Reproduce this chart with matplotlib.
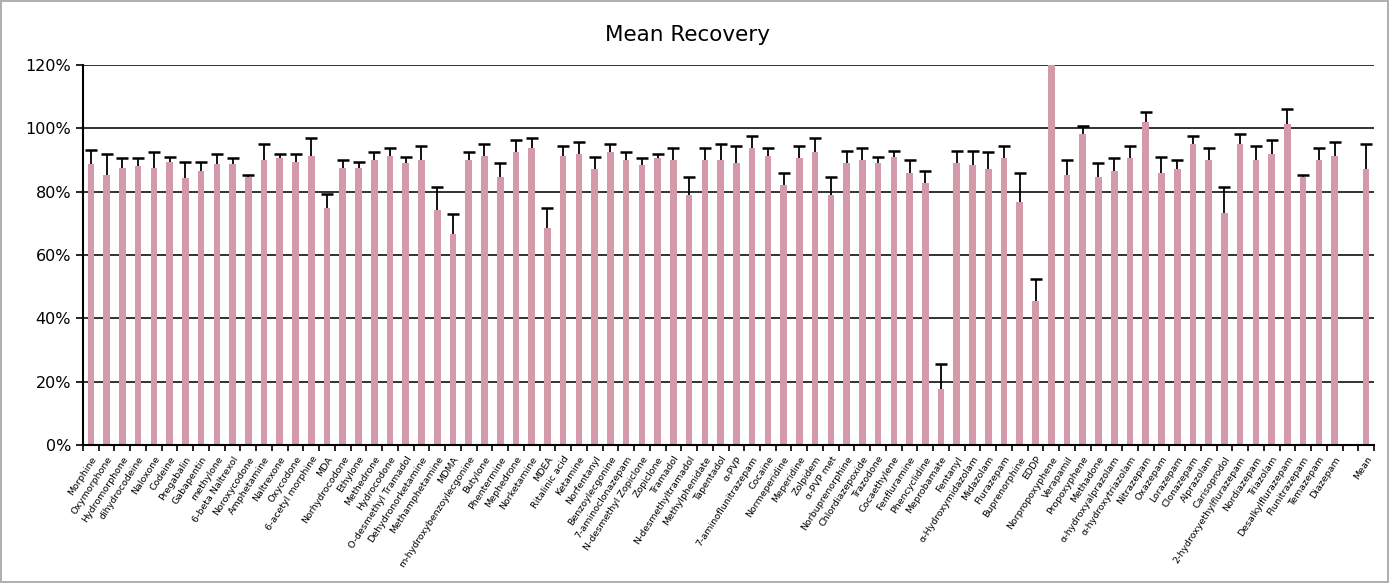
import numpy as np
import matplotlib
matplotlib.use("Agg")
import matplotlib.pyplot as plt
from matplotlib.ticker import FixedLocator, PercentFormatter

compounds = [
    "Morphine", "Oxymorphone", "Hydromorphone", "dihydrocodeine", "Naloxone",
    "Codeine", "Pregabalin", "Gabapentin", "methylone", "6-beta Naltrexol",
    "Noroxycodone", "Amphetamine", "Naltrexone", "Oxycodone", "6-acetyl morphine",
    "MDA", "Norhydrocodone", "Ethylone", "Methedrone", "Hydrocodone",
    "O-desmethyl Tramadol", "Dehydronorketamine", "Methamphetamine", "MDMA",
    "m-hydroxybenzoylecgonine", "Butylone", "Phentermine", "Mephedrone",
    "Norketamine", "MDEA", "Ritalinic acid", "Ketamine", "Norfentanyl",
    "Benzoylecgonine", "7-aminoclonazepam", "N-desmethyl Zopiclone", "Zopiclone",
    "Tramadol", "N-desmethyltramadol", "Methylphenidate", "Tapentadol", "α-PVP",
    "7-aminoflunitrazepam", "Cocaine", "Normeperidine", "Meperidine", "Zolpidem",
    "α-PVP met", "Norbuprenorphine", "Chlordiazepoxide", "Trazodone",
    "Cocaethylene", "Fenfluramine", "Phencyclidine", "Meprobamate", "Fentanyl",
    "α-Hydroxymidazolam", "Midazolam", "Flurazepam", "Buprenorphine", "EDDP",
    "Norpropoxyphene", "Verapamil", "Propoxyphene", "Methadone",
    "α-hydroxyalprazolam", "α-hydroxytriazolam", "Nitrazepam", "Oxazepam",
    "Lorazepam", "Clonazepam", "Alprazolam", "Carisoprodol",
    "2-hydroxyethylflurazepam", "Nordiazepam", "Triazolam", "Desalkylflurazepam",
    "Flunitrazepam", "Temazepam", "Diazepam", "", "Mean",
]

# mean recovery (%) and upper error (%); the blank slot before Mean is NaN
recovery = [
    88.6, 85.3, 87.4, 88.0, 87.4, 89.3, 84.2, 86.6, 88.6, 88.6,
    84.7, 89.9, 90.5, 89.3, 91.2, 74.9, 87.4, 87.4, 89.9, 91.2,
    89.1, 89.9, 74.3, 66.7, 89.9, 91.2, 84.7, 92.4, 93.7, 68.5,
    91.2, 91.8, 87.3, 92.4, 89.9, 88.5, 90.5, 89.9, 78.8, 89.9,
    89.9, 89.1, 93.7, 91.2, 82.1, 90.5, 92.4, 78.8, 89.1, 89.9,
    89.1, 91.0, 86.0, 82.7, 17.7, 89.1, 88.5, 87.3, 90.5, 76.8,
    45.4, 130.0, 85.3, 98.2, 84.7, 86.6, 90.5, 102.1, 86.0, 87.3,
    94.9, 89.9, 73.2, 94.9, 89.9, 91.8, 101.5, 84.7, 89.9, 91.2,
    np.nan, 87.3,
]
error = [
    4.6, 6.5, 3.1, 2.5, 5.2, 1.7, 5.1, 2.7, 3.2, 1.9,
    0.6, 5.0, 1.3, 2.5, 5.8, 4.5, 2.5, 1.9, 2.5, 2.5,
    1.9, 4.4, 7.3, 6.3, 2.5, 3.8, 4.4, 3.9, 3.1, 6.4,
    3.1, 3.8, 3.7, 2.5, 2.5, 2.0, 1.3, 3.8, 5.9, 3.8,
    5.0, 5.2, 3.8, 2.5, 3.9, 3.8, 4.4, 5.9, 3.9, 3.8,
    1.9, 2.0, 3.9, 3.9, 7.8, 3.9, 4.5, 5.1, 3.8, 9.2,
    7.0, 5.0, 4.6, 2.5, 4.4, 3.9, 3.8, 3.2, 5.0, 2.6,
    2.6, 3.8, 8.4, 3.3, 4.4, 4.5, 4.5, 0.6, 3.8, 4.5,
    np.nan, 7.6,
]

x = np.arange(len(compounds))
vals = np.array(recovery)
errs = np.array(error)

fig = plt.figure(figsize=(13.89, 5.83), dpi=100)
fig.patch.set_edgecolor('#b0b0b0')
fig.patch.set_linewidth(1.5)
ax = fig.add_axes([83 / 1389, 1 - 445 / 583, (1374 - 83) / 1389, 380 / 583])

ax.yaxis.grid(True, color='#222222', linewidth=1.3)
ax.set_axisbelow(True)
ax.bar(x, vals, width=0.42, color='#D49AA9', zorder=2)
eb = ax.errorbar(x, vals, yerr=[np.zeros_like(errs), errs], fmt='none',
                 ecolor='black', elinewidth=1.3, capsize=4, capthick=1.8, zorder=3)
# keep only the upper cap
eb[1][0].remove()

ax.set_xlim(-0.5, len(compounds) - 0.5)
ax.set_ylim(0, 120)
ax.set_yticks(np.arange(0, 121, 20))
ax.yaxis.set_major_formatter(PercentFormatter(decimals=0))
ax.tick_params(axis='y', labelsize=11.5, length=5, width=1.2, direction='out')

# labels sit on the bars, tick marks between categories
ax.set_xticks(x)
ax.set_xticklabels(compounds, rotation=57, ha='right', rotation_mode='anchor',
                   fontsize=6.8)
ax.tick_params(axis='x', which='major', length=0, pad=7)
ax.xaxis.set_minor_locator(FixedLocator(np.arange(len(compounds) + 1) - 0.5))
ax.tick_params(axis='x', which='minor', length=4, width=1.2, direction='out')

for side in ['top', 'right']:
    ax.spines[side].set_visible(False)
ax.spines['left'].set_linewidth(1.5)
ax.spines['bottom'].set_linewidth(1.5)

fig.text(0.495, 1 - 35 / 583, "Mean Recovery", ha='center', va='center', fontsize=15.5)

fig.savefig("out.png", dpi=100)
